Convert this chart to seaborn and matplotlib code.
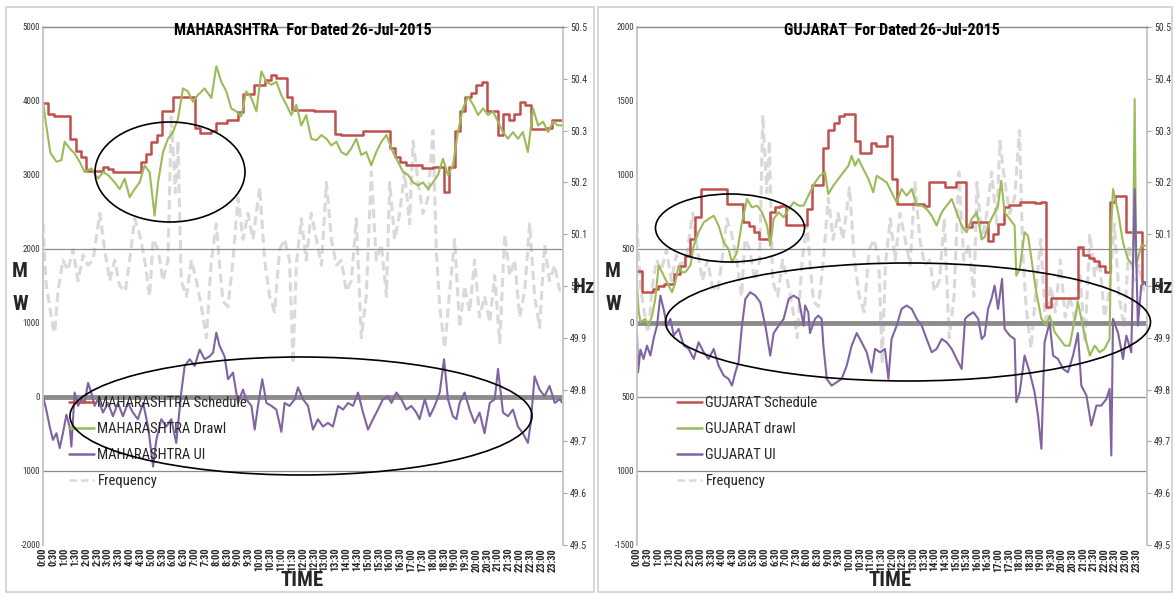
import numpy as np
import pandas as pd
import seaborn as sns
import matplotlib
matplotlib.use("Agg")
import matplotlib.pyplot as plt
from matplotlib.lines import Line2D
from matplotlib.patches import Ellipse, Rectangle
from matplotlib import font_manager

# ---------------- data ----------------
# 15-minute schedule blocks (96 per day)
mh_schedule = [3970, 3830, 3800, 3800, 3800, 3490, 3330, 3240, 3060, 3060, 3060, 3110,
               3080, 3040, 3040, 3040, 3040, 3040, 3180, 3290, 3450, 3540, 3860, 3860,
               4060, 4060, 4060, 4060, 3630, 3570, 3570, 3590, 3700, 3700, 3740, 3740,
               3850, 4100, 4100, 4220, 4220, 4285, 4350, 4310, 4310, 4060, 3880, 3880,
               3880, 3880, 3865, 3865, 3865, 3865, 3560, 3540, 3540, 3540, 3540, 3590,
               3590, 3590, 3590, 3590, 3370, 3240, 3176, 3130, 3130, 3130, 3090, 3090,
               3110, 3110, 2770, 3110, 3590, 3860, 4060, 4110, 4220, 4260, 3860, 3860,
               3540, 3830, 3740, 3830, 3980, 3940, 3620, 3620, 3620, 3640, 3740, 3740]

gj_schedule = [354, 207, 207, 230, 248, 264, 264, 331, 388, 455, 568, 714,
               905, 905, 905, 905, 905, 804, 804, 804, 680, 658, 613, 568,
               568, 748, 781, 790, 662, 662, 662, 662, 770, 932, 932, 1180,
               1305, 1350, 1400, 1411, 1411, 1231, 1152, 1152, 1215, 1193, 1193, 1265,
               972, 804, 804, 804, 804, 804, 792, 950, 950, 950, 916, 916,
               954, 954, 646, 680, 680, 680, 556, 600, 669, 786, 797, 797,
               815, 815, 815, 808, 815, 106, 167, 167, 167, 167, 167, 511,
               460, 440, 421, 388, 343, 815, 860, 860, 612, 612, 612, 275]

mh_drawl_t = [0, .15, .34, .46, .62, .85, 1.0, 1.23, 1.46, 1.69, 1.92, 2.23, 2.54, 2.77, 3.0,
              3.31, 3.54, 3.77, 4.0, 4.23, 4.46, 4.69, 4.92, 5.15, 5.31, 5.54, 5.77, 6.0, 6.23,
              6.46, 6.69, 6.92, 7.15, 7.46, 7.77, 8.0, 8.23, 8.46, 8.69, 8.92, 9.15, 9.38, 9.62,
              9.85, 10.08, 10.31, 10.54, 10.77, 11.0, 11.23, 11.46, 11.69, 11.92, 12.15, 12.38,
              12.62, 12.85, 13.08, 13.31, 13.54, 13.77, 14.0, 14.23, 14.46, 14.69, 14.92, 15.15,
              15.38, 15.62, 15.85, 16.15, 16.38, 16.62, 16.85, 17.08, 17.31, 17.54, 17.77, 18.0,
              18.23, 18.46, 18.69, 18.92, 19.15, 19.38, 19.62, 19.85, 20.08, 20.31, 20.54, 20.77,
              21.0, 21.23, 21.46, 21.69, 21.92, 22.15, 22.38, 22.62, 22.85, 23.08, 23.31, 23.54,
              23.77, 23.97]
mh_drawl = [3990, 3670, 3300, 3250, 3180, 3200, 3450, 3360, 3290, 3180, 3040, 3090, 2950, 3040, 3000,
            2900, 2810, 2950, 2700, 2810, 2900, 3130, 3040, 2450, 2900, 3310, 3490, 3580, 3760,
            4170, 4130, 3990, 4080, 4170, 4040, 4470, 4260, 4130, 3900, 3860, 3790, 4130, 4040,
            3860, 4400, 4260, 4220, 4260, 4080, 3950, 3810, 3950, 3670, 3810, 3490,
            3470, 3540, 3490, 3400, 3450, 3310, 3270, 3360, 3490, 3270, 3310, 3130,
            3310, 3450, 3540, 3310, 3180, 3040, 3000, 2900, 2860, 2900, 2810, 2900,
            3000, 3220, 3000, 3130, 3580, 3900, 4060, 3950, 3810, 3900, 3810, 3860,
            3720, 3580, 3490, 3580, 3490, 3580, 3310, 3900, 3670, 3720, 3580, 3720,
            3670, 3670]

mh_ui_t = [0, .15, .31, .46, .62, .77, .92, 1.08, 1.23, 1.31, 1.46, 1.62, 1.77, 1.92, 2.08, 2.23,
           2.38, 2.54, 2.77, 3.0, 3.23, 3.46, 3.69, 3.92, 4.15, 4.38, 4.62, 4.85, 5.08, 5.23, 5.46,
           5.69, 5.92, 6.15, 6.38, 6.54, 6.77, 7.0, 7.23, 7.46, 7.69, 7.85, 8.0, 8.15, 8.38, 8.54,
           8.77, 9.0, 9.23, 9.38, 9.62, 9.77, 9.92, 10.12, 10.31, 10.54, 10.77, 11.0, 11.15, 11.38,
           11.62, 11.77, 12.0, 12.23, 12.46, 12.69, 12.92, 13.15, 13.38, 13.62, 13.85, 14.08, 14.31,
           14.54, 14.77, 15.0, 15.23, 15.46, 15.69, 15.92, 16.08, 16.31, 16.54, 16.77, 17.0, 17.23,
           17.38, 17.62, 17.85, 18.08, 18.31, 18.51, 18.69, 18.92, 19.08, 19.23, 19.46, 19.69,
           19.92, 20.15, 20.38, 20.62, 20.85, 21.0, 21.23, 21.46, 21.69, 21.92, 22.15, 22.38,
           22.51, 22.69, 22.92, 23.15, 23.38, 23.62, 23.85, 23.97]
mh_ui = [10, -170, -400, -580, -490, -690, -490, -240, -400, -670, 60, -120, -30, -80, 190, 60,
         -120, -30, -210, -80, -260, -80, -260, -80, -210, -300, -80, -400, -940, -580, -300,
         -400, -300, -620, 60, 420, 510, 420, 640, 510, 550, 600, 870, 690, 550, 240,
         330, -80, 100, -30, -120, -440, -120, 240, -80, -120, -170, -470, -80, -120,
         -30, 130, -30, -120, -440, -300, -400, -350, -400, -120, -170, -80, -120,
         60, -210, -440, -300, -170, -30, 10, -80, 60, -30, -170, -120, -210,
         -300, -30, -260, -120, 60, 510, -30, -260, -300, -80, 60, -170,
         -350, -210, -490, -80, -30, 380, -210, -260, -170, -400, -490, -620,
         -350, 280, 100, 10, 150, -80, -30, -80]

gj_drawl_t = [0, .08, .16, .39, .55, .71, .86, 1.02, 1.18, 1.33, 1.49, 1.65, 1.8, 1.96, 2.12, 2.27,
              2.51, 2.67, 2.9, 3.14, 3.37, 3.61, 3.84, 4.08, 4.31, 4.47, 4.71, 4.94, 5.18, 5.41,
              5.65, 5.88, 6.12, 6.27, 6.43, 6.67, 6.9, 7.14, 7.37, 7.61, 7.84, 8.14, 8.38, 8.61,
              8.85, 9.0, 9.24, 9.47, 9.71, 9.95, 10.1, 10.26, 10.42, 10.65, 10.89, 11.12, 11.28,
              11.51, 11.75, 11.98, 12.22, 12.45, 12.69, 12.93, 13.16, 13.4, 13.63, 13.87, 14.1,
              14.34, 14.57, 14.81, 15.04, 15.28, 15.51, 15.75, 15.99, 16.22, 16.36, 16.52, 16.75,
              16.99, 17.14, 17.3, 17.54, 17.77, 17.85, 18.01, 18.24, 18.4, 18.56, 18.79, 19.03,
              19.27, 19.42, 19.66, 19.9, 20.13, 20.36, 20.6, 20.75, 20.91, 21.07, 21.31, 21.54,
              21.77, 22.0, 22.24, 22.32, 22.4, 22.64, 22.87, 23.1, 23.34, 23.42, 23.49, 23.73, 23.97]
gj_drawl = [250, 80, 5, 28, -18, 50, 163, 388, 343, 298, 253, 208, 275, 388, 343, 343,
            388, 523, 613, 680, 703, 725, 658, 545, 500, 410, 478, 680, 838, 781,
            793, 748, 658, 523, 703, 748, 714, 770, 815, 793, 793, 883, 950, 995,
            1018, 871, 928, 973, 1018, 1063, 1130, 1063, 1108, 1040, 973, 883, 995,
            973, 950, 883, 815, 905, 860, 905, 793, 793, 770, 725, 658,
            748, 793, 838, 748, 658, 613, 703, 748, 568, 579, 658, 725,
            793, 961, 748, 703, 658, 320, 365, 613, 590, 433, 208, 28,
            -18, 50, -63, -108, -153, -153, 28, 140, 28, -85, -220, -153,
            -198, -175, -108, 658, 905, 748, 545, 433, 388, 1513, 388, 523, 523]

gj_ui_t = [0, .05, .16, .31, .47, .63, .78, .94, 1.1, 1.25, 1.41, 1.57, 1.73, 1.96, 2.2, 2.43,
           2.67, 2.9, 3.14, 3.37, 3.61, 3.84, 4.08, 4.31, 4.47, 4.63, 4.78, 4.94, 5.1, 5.33, 5.57,
           5.8, 6.04, 6.27, 6.43, 6.67, 6.9, 7.14, 7.37, 7.61, 7.84, 7.91, 8.06, 8.14, 8.38, 8.53,
           8.69, 8.77, 8.93, 9.16, 9.4, 9.63, 9.87, 10.1, 10.34, 10.57, 10.81, 11.04, 11.2, 11.44,
           11.67, 11.83, 11.98, 12.22, 12.45, 12.69, 12.93, 13.16, 13.4, 13.63, 13.87, 14.1, 14.34,
           14.57, 14.81, 15.04, 15.28, 15.44, 15.59, 15.83, 16.06, 16.22, 16.36, 16.52, 16.68,
           16.83, 16.99, 17.18, 17.3, 17.54, 17.77, 17.85, 18.01, 18.24, 18.48, 18.71, 18.87,
           19.03, 19.18, 19.42, 19.58, 19.81, 20.05, 20.28, 20.52, 20.75, 20.91, 21.15, 21.38,
           21.62, 21.85, 22.09, 22.24, 22.32, 22.4, 22.64, 22.87, 23.03, 23.26, 23.42, 23.57,
           23.73, 23.89, 23.97]
gj_ui = [-68, -333, -180, -243, -153, -220, -108, -18, 185, 95, -18, 28, -85, -40, -153, -175,
         -243, -130, -198, -243, -175, -288, -355, -378, -423, -333, -265, -18, 163, 208, 185,
         140, -18, -220, -68, -18, 28, 163, 185, 163, -18, 118, 73, -68, 28, 50,
         28, -153, -378, -423, -400, -378, -288, -153, -68, -130, -198, -333, -175, -198,
         -175, -378, -108, -18, 95, 118, 95, 28, -18, -108, -198, -175, -108,
         -130, -175, -243, -310, 28, 50, 73, 28, -108, -85, 95, 163,
         253, 95, 298, -40, -85, -108, -535, -468, -220, -333, -468, -625,
         -850, -130, 5, -220, -243, -310, -333, -220, -68, -423, -490, -693,
         -558, -558, -513, -445, -895, 28, -68, -243, -85, -198, 905, -18,
         253, 275, 253]

freq_t = [0, .15, .31, .46, .54, .69, .92, 1.15, 1.38, 1.62, 1.85, 2.08, 2.31, 2.62, 2.85, 3.08,
          3.31, 3.54, 3.8, 4.0, 4.23, 4.46, 4.69, 4.92, 5.08, 5.31, 5.54, 5.77, 5.92, 6.11, 6.23,
          6.38, 6.62, 6.85, 7.08, 7.31, 7.54, 7.77, 8.0, 8.15, 8.31, 8.54, 8.77, 9.0, 9.23, 9.46,
          9.69, 10.0, 10.23, 10.46, 10.69, 10.92, 11.15, 11.38, 11.54, 11.69, 11.92, 12.15, 12.38,
          12.62, 12.85, 13.08, 13.31, 13.54, 13.77, 14.0, 14.23, 14.46, 14.69, 14.92, 15.15, 15.38,
          15.62, 15.85, 16.0, 16.23, 16.46, 16.69, 16.92, 17.08, 17.31, 17.54, 17.77, 18.0, 18.15,
          18.31, 18.54, 18.77, 19.0, 19.23, 19.46, 19.69, 19.92, 20.15, 20.38, 20.62, 20.85, 21.08,
          21.31, 21.54, 21.77, 22.0, 22.23, 22.46, 22.69, 22.92, 23.15, 23.38, 23.62, 23.85]
freq = [50.12, 50.0, 49.96, 49.92, 49.91, 49.99, 50.05, 50.03, 50.07, 50.01, 50.06, 50.04, 50.05,
        50.14, 50.07, 50.01, 50.05, 50.0, 49.99, 50.05, 50.13, 50.10, 50.05, 49.98, 50.09, 50.07,
        50.01, 50.05, 50.33, 50.18, 50.28, 50.01, 49.98, 50.05, 50.01, 49.96, 49.90, 50.05,
        50.12, 50.04, 49.97, 49.96, 50.05, 50.17, 50.09, 50.14, 50.09, 50.19, 50.05, 49.98, 49.95,
        50.07, 50.09, 50.05, 49.85, 50.04, 50.13, 50.05, 50.14, 50.09, 50.04, 50.20, 50.09, 50.04,
        50.05, 49.99, 50.01, 50.13, 49.90, 49.98, 50.22, 50.05, 50.08, 49.98, 50.20, 50.09, 50.14,
        50.22, 50.12, 50.28, 50.20, 50.14, 50.17, 50.30, 50.07, 49.96, 49.88, 49.99, 50.09, 49.92,
        50.0, 49.95, 50.05, 49.94, 49.98, 49.93, 50.02, 49.89, 50.10, 50.02, 50.05, 49.94, 49.99,
        50.12, 49.98, 49.92, 50.08, 50.01, 50.04, 49.99]

time_labels = [f"{h}:{m:02d}" for h in range(24) for m in (0, 30)]

# ---------------- style ----------------
sns.set_theme(style="white")
entries = font_manager.fontManager.ttflist
names = {f.name for f in entries}
narrow = None
for cand in ["Liberation Sans Narrow", "Roboto Condensed", "Open Sans Condensed",
             "DejaVu Sans Condensed", "Noto Sans Condensed"]:
    if cand in names:
        narrow = cand
        break
if narrow is None:
    for f in entries:
        if ("Narrow" in f.name or "Condensed" in f.name) and "Mono" not in f.name:
            narrow = f.name
            break
if narrow is None:
    base = "Liberation Sans" if "Liberation Sans" in names else "DejaVu Sans"
    scale = 0.84
else:
    base = narrow
    scale = 1.0
plt.rcParams["font.family"] = [base, "DejaVu Sans"]

C_SCH, C_DRW, C_UI, C_FRQ = "#C0504D", "#9BBB59", "#8064A2", "#D9D9D9"
W, H = 1175, 595
fig = plt.figure(figsize=(W / 100, H / 100), dpi=100)


def px_axes(x0, x1, y0, y1):
    return fig.add_axes([x0 / W, (H - y1) / H, (x1 - x0) / W, (y1 - y0) / H])


# panel borders
for (bx0, bx1) in [(6, 594), (598, 1172)]:
    fig.patches.append(Rectangle((bx0 / W, 3 / H), (bx1 - bx0) / W, (H - 10) / H,
                                 transform=fig.transFigure, fill=False,
                                 edgecolor="#D0D0D0", lw=1.2))


def panel(x0, x1, name, sched, dt, dv, ut, uv, ylim, yticks, ylabels, gridvals,
          drawl_label, ell1, ell2, leg_x):
    ax = px_axes(x0, x1, 27, 545)
    ax2 = ax.twinx()
    ax.set_zorder(ax2.get_zorder() + 1)
    ax.patch.set_visible(False)

    # frequency on secondary axis
    sns.lineplot(x=freq_t, y=freq, ax=ax2, color=C_FRQ, lw=2.2, estimator=None,
                 sort=False, legend=False)
    ax2.lines[-1].set_dashes((3, 1.6))
    ax2.set_ylim(49.5, 50.5)
    hz_ticks = [49.5, 49.6, 49.7, 49.8, 49.9, 50.0, 50.1, 50.2, 50.3, 50.4, 50.5]
    ax2.set_yticks(hz_ticks)
    ax2.set_yticklabels([("50" if abs(v - 50) < 1e-9 else f"{v:.1f}") for v in hz_ticks])
    ax2.tick_params(axis="y", length=3, width=0.8, color="#A0A0A0", labelsize=7,
                    labelcolor="#333333", pad=2, right=True)

    # reference lines
    for g in gridvals:
        ax.axhline(g, color="#8C8C8C", lw=0.9, zorder=1)
    ax.axhline(0, color="#8C8C8C", lw=3.5, zorder=1)

    sx = list(np.arange(len(sched)) / 4) + [24]
    sy = list(sched) + [sched[-1]]
    sns.lineplot(x=sx, y=sy, ax=ax, color=C_SCH, lw=1.8, drawstyle="steps-post",
                 estimator=None, sort=False, legend=False)
    sns.lineplot(x=dt, y=dv, ax=ax, color=C_DRW, lw=1.5, estimator=None, sort=False,
                 legend=False)
    sns.lineplot(x=ut, y=uv, ax=ax, color=C_UI, lw=1.5, estimator=None, sort=False,
                 legend=False)

    ax.set_xlim(0, 24)
    ax2.set_xlim(0, 24)
    ax.set_ylim(*ylim)
    ax.set_yticks(yticks)
    ax.set_yticklabels(ylabels)
    ax.tick_params(axis="y", length=0, labelsize=6.5, labelcolor="#333333", pad=2)
    ax.set_xticks(np.arange(48) / 2)
    ax.set_xticklabels(time_labels, rotation=90, fontsize=7.5 * scale,
                       fontweight="bold")
    ax.tick_params(axis="x", length=0, pad=2)
    ax.set_xlabel("")
    ax.set_ylabel("")
    ax2.set_ylabel("")
    for a in (ax, ax2):
        a.grid(False)
        a.spines["bottom"].set_visible(False)
        a.spines["top"].set_color("#8C8C8C")
        a.spines["top"].set_linewidth(0.9)
        a.spines["left"].set_color("#C8C8C8")
        a.spines["right"].set_color("#C8C8C8")

    ax.text(0.5, 0.993, f"{name}  For Dated 26-Jul-2015", transform=ax.transAxes,
            ha="center", va="center", fontsize=11.5 * scale, fontweight="bold",
            color="black")

    handles = [Line2D([], [], color=C_SCH, lw=1.8), Line2D([], [], color=C_DRW, lw=1.8),
               Line2D([], [], color=C_UI, lw=1.8),
               Line2D([], [], color=C_FRQ, lw=1.8, dashes=(3, 1.6))]
    labels = [f"{name} Schedule", drawl_label, f"{name} UI", "Frequency"]
    fs = 10.5 if scale == 1 else 9.6
    ax.legend(handles, labels, loc="upper left",
              bbox_to_anchor=((leg_x - x0) / (x1 - x0), (545 - 396) / 518),
              frameon=False, fontsize=fs, handlelength=1.7, handletextpad=0.25,
              labelspacing=0.82, borderpad=0, borderaxespad=0)

    for (cx, cy, ew, eh) in (ell1, ell2):
        ax.add_patch(Ellipse(((cx - x0) / (x1 - x0), (545 - cy) / 518),
                             ew / (x1 - x0), eh / 518, transform=ax.transAxes,
                             fill=False, edgecolor="black", lw=1.2, clip_on=False,
                             zorder=10))
    return ax


panel(43, 563, "MAHARASHTRA", mh_schedule, mh_drawl_t, mh_drawl, mh_ui_t, mh_ui,
      (-2000, 5000), [-2000, -1000, 0, 1000, 2000, 3000, 4000, 5000],
      ["-2000", "1000", "0", "1000", "2000", "3000", "4000", "5000"], [2000, -1000],
      "MAHARASHTRA Drawl", (170, 172, 150, 100), (301, 416, 462, 118), 69)

panel(637, 1147, "GUJARAT", gj_schedule, gj_drawl_t, gj_drawl, gj_ui_t, gj_ui,
      (-1500, 2000), [-1500, -1000, -500, 0, 500, 1000, 1500, 2000],
      ["-1500", "1000", "500", "0", "500", "1000", "1500", "2000"], [500, -500, -1000],
      "GUJARAT drawl", (730, 228, 149, 68), (908, 322, 485, 118), 677)

# axis titles
big = 15 * (1 if scale == 1 else 0.95)
for mx, hx, tx in [(20, 584, 302), (613, 1162, 890)]:
    fig.text(mx / W, 1 - 272 / H, "M", ha="center", va="center", fontsize=big,
             fontweight="bold")
    fig.text(mx / W, 1 - 305 / H, "W", ha="center", va="center", fontsize=big,
             fontweight="bold")
    fig.text(hx / W, 1 - 287 / H, "Hz", ha="center", va="center", fontsize=big,
             fontweight="bold")
    fig.text(tx / W, 1 - 580 / H, "TIME", ha="center", va="center", fontsize=big,
             fontweight="bold")

fig.savefig("out.png", dpi=100)
